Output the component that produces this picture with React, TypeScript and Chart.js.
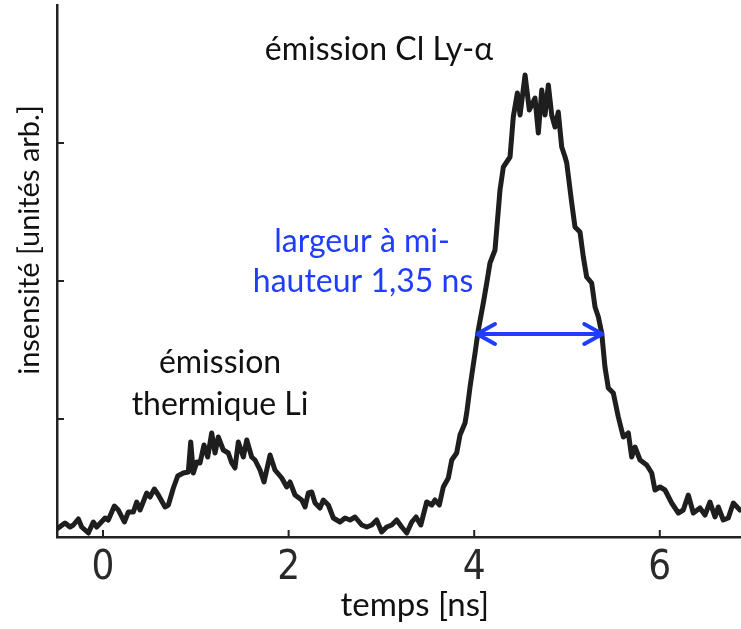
import React, { useEffect, useRef } from "react";
import { Chart, registerables } from "chart.js";

Chart.register(...registerables);

// time axis (ns)
const timeNs = [
  -0.482, -0.41, -0.356, -0.32, -0.266, -0.23, -0.158, -0.105, -0.068, 0.022,
  0.057, 0.122, 0.165, 0.23, 0.273, 0.327, 0.363, 0.399, 0.471, 0.506,
  0.553, 0.596, 0.668, 0.704, 0.758, 0.805, 0.865, 0.919, 0.945, 0.973,
  1.01, 1.045, 1.088, 1.128, 1.171, 1.207, 1.242, 1.296, 1.35, 1.387,
  1.422, 1.458, 1.512, 1.549, 1.602, 1.638, 1.692, 1.735, 1.8, 1.853,
  1.926, 1.98, 2.015, 2.069, 2.141, 2.177, 2.212, 2.249, 2.285, 2.338,
  2.374, 2.428, 2.482, 2.554, 2.608, 2.662, 2.716, 2.788, 2.842, 2.896,
  2.949, 3.003, 3.057, 3.111, 3.165, 3.219, 3.273, 3.327, 3.373, 3.424,
  3.488, 3.542, 3.578, 3.624, 3.667, 3.721, 3.758, 3.811, 3.847, 3.901,
  3.919, 3.955, 4.009, 4.044, 4.098, 4.135, 4.17, 4.224, 4.26, 4.278,
  4.314, 4.386, 4.421, 4.465, 4.494, 4.548, 4.594, 4.655, 4.691, 4.728,
  4.763, 4.799, 4.835, 4.871, 4.906, 4.943, 4.979, 4.997, 5.051, 5.086,
  5.14, 5.176, 5.212, 5.266, 5.302, 5.338, 5.374, 5.409, 5.445, 5.499,
  5.553, 5.607, 5.661, 5.697, 5.733, 5.787, 5.859, 5.913, 5.948, 6.002,
  6.056, 6.128, 6.2, 6.253, 6.307, 6.361, 6.433, 6.487, 6.541, 6.595,
  6.63, 6.684, 6.738, 6.792, 6.864,
];

// intensity (arbitrary units)
const intensity = [
  9, 14, 10, 12, 18, 10, 4, 15, 10, 19,
  17, 31, 27, 15, 25, 25, 35, 27, 44, 40,
  48, 42, 30, 32, 49, 61, 64, 65, 95, 64,
  75, 74, 92, 80, 104, 84, 100, 87, 84, 74,
  69, 95, 80, 97, 80, 77, 67, 55, 82, 67,
  59, 50, 55, 42, 37, 30, 44, 45, 34, 29,
  37, 32, 19, 15, 19, 17, 20, 12, 10, 12,
  17, 5, 10, 12, 17, 10, 4, 15, 20, 12,
  35, 32, 37, 32, 50, 59, 77, 84, 102, 114,
  124, 150, 184, 207, 234, 254, 274, 287, 327, 347,
  370, 380, 420, 444, 422, 462, 427, 439, 404, 447,
  422, 452, 422, 410, 425, 390, 380, 374, 334, 310,
  305, 280, 260, 254, 230, 220, 204, 170, 149, 144,
  120, 100, 104, 80, 90, 77, 72, 64, 47, 50,
  47, 34, 24, 27, 42, 24, 29, 22, 35, 20,
  30, 17, 19, 34, 27,
];

const xTickValues = [0, 2, 4, 6];
const yTickValues = [118, 256, 394];
const xMin = -0.496;
const xMax = 6.875;
const yMin = 0;
const yMax = 532;

// full width at half maximum arrow
const fwhmStart = 4.03;
const fwhmEnd = 5.38;
const fwhmLevel = 203;

const xTitle = "temps [ns]";
const yTitle = "insensité [unités arb.]";

// annotations: text, x (ns), y (a.u.), colour
const annotTexts = ["émission Cl Ly-α", "largeur à mi-", "hauteur 1,35 ns", "émission", "thermique Li"];
const annotX = [2.974, 2.791, 2.802, 1.261, 1.261];
const annotY = [487, 295, 255, 174, 132];
const annotColors = ["#111111", "#1f3cff", "#1f3cff", "#111111", "#111111"];

const TEXT_FONT = "Lato, 'Open Sans', sans-serif";
const AXIS_COLOR = "#222222";
const BLUE = "#1f3cff";

const overlayPlugin = {
  id: "overlay",
  afterDraw(chart: any) {
    const { ctx, chartArea, scales } = chart;
    const xs = scales.x;
    const ys = scales.y;
    ctx.save();
    // inward ticks
    ctx.strokeStyle = AXIS_COLOR;
    ctx.lineWidth = 2;
    xTickValues.forEach((v) => {
      const px = xs.getPixelForValue(v);
      ctx.beginPath();
      ctx.moveTo(px, chartArea.bottom);
      ctx.lineTo(px, chartArea.bottom - 7);
      ctx.stroke();
    });
    yTickValues.forEach((v) => {
      const py = ys.getPixelForValue(v);
      ctx.beginPath();
      ctx.moveTo(chartArea.left, py);
      ctx.lineTo(chartArea.left + 7, py);
      ctx.stroke();
    });

    // FWHM arrow
    const ax1 = xs.getPixelForValue(fwhmStart);
    const ax2 = xs.getPixelForValue(fwhmEnd);
    const ay = ys.getPixelForValue(fwhmLevel);
    ctx.strokeStyle = BLUE;
    ctx.lineWidth = 4;
    ctx.lineCap = "round";
    ctx.lineJoin = "round";
    ctx.beginPath();
    ctx.moveTo(ax1, ay);
    ctx.lineTo(ax2, ay);
    ctx.stroke();
    ctx.beginPath();
    ctx.moveTo(ax1 + 18, ay - 10);
    ctx.lineTo(ax1, ay);
    ctx.lineTo(ax1 + 18, ay + 10);
    ctx.stroke();
    ctx.beginPath();
    ctx.moveTo(ax2 - 18, ay - 10);
    ctx.lineTo(ax2, ay);
    ctx.lineTo(ax2 - 18, ay + 10);
    ctx.stroke();

    // annotations
    ctx.textAlign = "center";
    ctx.textBaseline = "middle";
    ctx.font = `32px ${TEXT_FONT}`;
    annotTexts.forEach((t, i) => {
      ctx.fillStyle = annotColors[i];
      ctx.fillText(t, xs.getPixelForValue(annotX[i]), ys.getPixelForValue(annotY[i]));
    });

    // axis titles
    ctx.fillStyle = "#111111";
    ctx.font = `33px ${TEXT_FONT}`;
    ctx.fillText(xTitle, xs.getPixelForValue(3.36), chartArea.bottom + 68);
    ctx.font = `29px ${TEXT_FONT}`;
    ctx.translate(chartArea.left - 27, ys.getPixelForValue(297));
    ctx.rotate(-Math.PI / 2);
    ctx.fillText(yTitle, 0, 0);
    ctx.restore();
  },
};

export default function App() {
  const canvasRef = useRef<HTMLCanvasElement | null>(null);

  useEffect(() => {
    document.body.style.margin = "0";
    const canvas = canvasRef.current;
    if (!canvas) return;
    const chart = new Chart(canvas, {
      type: "line",
      data: {
        datasets: [
          {
            data: timeNs.map((t, i) => ({ x: t, y: intensity[i] })),
            borderColor: "#1e1e1e",
            borderWidth: 5,
            pointRadius: 0,
            tension: 0,
            fill: false,
            borderJoinStyle: "round",
            borderCapStyle: "round",
          },
        ],
      },
      options: {
        animation: false,
        responsive: false,
        devicePixelRatio: 1,
        layout: { padding: { top: 5, left: 0, right: 0, bottom: 0 } },
        plugins: {
          legend: { display: false },
          tooltip: { enabled: false },
        },
        scales: {
          x: {
            type: "linear",
            min: xMin,
            max: xMax,
            grid: { display: false, drawTicks: false },
            border: { display: true, color: AXIS_COLOR, width: 2.5 },
            afterBuildTicks: (scale: any) => {
              scale.ticks = xTickValues.map((v) => ({ value: v }));
            },
            afterFit: (scale: any) => {
              scale.height = 92;
            },
            ticks: {
              autoSkip: false,
              maxRotation: 0,
              padding: 8,
              color: "#2a2a2a",
              font: { family: "'Liberation Sans Narrow', 'DejaVu Sans Condensed', sans-serif", size: 40 },
              callback: (v: any) => String(v),
            },
          },
          y: {
            type: "linear",
            min: yMin,
            max: yMax,
            grid: { display: false, drawTicks: false },
            border: { display: true, color: AXIS_COLOR, width: 2.5 },
            ticks: { display: false },
            afterFit: (scale: any) => {
              scale.width = 57;
            },
          },
        },
      },
      plugins: [overlayPlugin],
    });
    return () => chart.destroy();
  }, []);

  return (
    <div style={{ position: "fixed", left: 0, top: 0, width: 741, height: 629, background: "#fff" }}>
      <canvas ref={canvasRef} width={741} height={629} />
    </div>
  );
}
